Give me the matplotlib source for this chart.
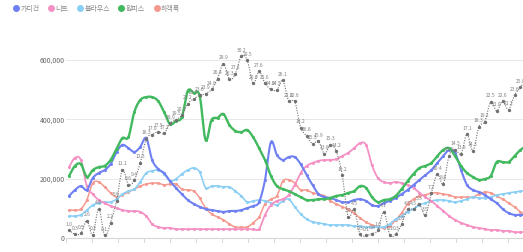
import numpy as np
import matplotlib
matplotlib.use("Agg")
import matplotlib.pyplot as plt
from matplotlib.lines import Line2D

plt.rcParams['font.family'] = ['Noto Sans CJK KR', 'DejaVu Sans']

# weekly search volume (thousands)
cardigan = [142, 162, 175, 162, 202, 219, 229, 249, 290, 314, 303, 290, 307, 337, 263, 233,
            219, 192, 169, 148, 128, 115, 105, 98, 94, 91, 88, 91, 91, 94, 101, 108,
            121, 196, 324, 280, 263, 273, 273, 249, 212, 179, 148, 138, 135, 128, 121, 121,
            128, 131, 125, 111, 108, 118, 125, 135, 148, 162, 179, 196, 212, 229, 253, 276,
            297, 287, 229, 179, 162, 155, 145, 131, 118, 98, 84, 78, 78, 78]
knit = [239, 270, 263, 175, 148, 128, 118, 108, 101, 94, 91, 91, 88, 74, 47, 37,
        34, 34, 30, 30, 30, 30, 30, 30, 30, 30, 30, 30, 30, 30, 30, 30,
        30, 78, 111, 125, 131, 145, 179, 219, 243, 253, 260, 263, 263, 266, 276, 287,
        303, 320, 314, 246, 202, 189, 185, 189, 185, 179, 169, 152, 138, 125, 108, 91,
        74, 61, 51, 44, 37, 34, 30, 27, 27, 24, 24, 20, 20, 20]
blouse = [74, 74, 78, 94, 111, 118, 121, 121, 131, 148, 158, 165, 189, 219, 226, 229,
          216, 192, 199, 216, 229, 236, 222, 169, 175, 175, 172, 172, 158, 142, 121, 125,
          128, 125, 118, 111, 125, 131, 105, 81, 64, 54, 51, 47, 44, 44, 44, 44,
          40, 40, 37, 37, 37, 37, 47, 64, 74, 88, 98, 111, 118, 125, 128, 128,
          125, 121, 125, 131, 138, 135, 135, 138, 145, 148, 152, 155, 158, 158]
dress = [209, 243, 249, 206, 229, 239, 243, 263, 300, 337, 340, 425, 465, 475, 475, 462,
         425, 384, 394, 408, 496, 489, 479, 330, 398, 405, 418, 381, 361, 357, 364, 340,
         303, 263, 209, 175, 165, 158, 148, 138, 128, 128, 131, 131, 135, 142, 145, 152,
         158, 175, 169, 138, 121, 128, 131, 142, 165, 192, 216, 236, 243, 253, 276, 297,
         303, 276, 243, 219, 206, 196, 199, 209, 256, 256, 256, 276, 297, 310]
guest = [94, 94, 98, 128, 185, 189, 172, 152, 138, 145, 155, 165, 175, 182, 185, 185,
         179, 182, 182, 165, 162, 158, 135, 101, 81, 71, 61, 47, 37, 37, 37, 51,
         71, 115, 131, 142, 192, 196, 185, 162, 162, 152, 148, 142, 125, 115, 105, 98,
         84, 67, 54, 44, 37, 34, 40, 61, 84, 115, 131, 142, 145, 152, 152, 148,
         145, 138, 138, 138, 138, 148, 155, 152, 142, 131, 118, 105, 88, 78]
# share (%) shown as the dotted line with labels
ratio = [1.0, 0.3, 0.5, 2.6, 0.2, 4.6, 0.1, 2.2, 5.9, 11.1, 8.6, 9.4, 12.3, 16.3, 17.0, 17.5,
         17.2, 18.9, 19.5, 20.3, 22.2, 23.0, 23.6, 23.9, 24.6, 26.4, 28.9, 26.3, 27.2, 30.2, 29.5, 25.6,
         27.6, 25.6, 24.6, 24.5, 26.1, 22.6, 22.6, 18.2, 16.8, 15.5, 15.9, 13.8, 15.3, 14.2, 10.2, 3.2,
         4.5, 0.3, 0.1, 0.4, 1.0, 4.1, 0.2, 0.3, 2.0, 4.5, 4.5, 5.3, 3.5, 7.2, 10.4, 8.8,
         13.5, 14.5, 13.8, 17.1, 14.3, 18.3, 19.2, 22.5, 21.0, 22.6, 21.2, 23.6, 25.0, 26.2]

names = ['가디건', '니트', '블라우스', '원피스', '하객룩']
colors = ['#6f80f2', '#f590c4', '#8ccff5', '#41b95e', '#f5998f']
series = [cardigan, knit, blouse, dress, guest]


def smooth(x, y, n=8):
    # catmull-rom curve through the points, for drawing only
    x = np.asarray(x, float)
    y = np.asarray(y, float)
    res = []
    for a in (x, y):
        p = np.concatenate([[2 * a[0] - a[1]], a, [2 * a[-1] - a[-2]]])
        p0, p1, p2, p3 = p[:-3], p[1:-2], p[2:-1], p[3:]
        t = np.linspace(0, 1, n, endpoint=False)[:, None]
        seg = 0.5 * (2 * p1 + (p2 - p0) * t + (2 * p0 - 5 * p1 + 4 * p2 - p3) * t ** 2
                     + (3 * p1 - p0 - 3 * p2 + p3) * t ** 3)
        res.append(np.append(seg.T.ravel(), a[-1]))
    return res


fig = plt.figure(figsize=(5.23, 2.52), dpi=100)
ax = fig.add_axes([66 / 523, 0, 457 / 523, 222 / 252])
x = np.arange(len(dress))

ax.set_xlim(-0.505, 76.43)
ax.set_ylim(-47191, 701124)
for s in ax.spines.values():
    s.set_visible(False)
ax.set_xticks([])
ax.set_yticks([0, 200000, 400000, 600000])
ax.set_yticklabels(['0', '200,000', '400,000', '600,000'], fontsize=5, color='#666666')
ax.tick_params(axis='y', length=0, pad=1)
for v in [200000, 400000, 600000]:
    ax.axhline(v, color='#e8e8e8', lw=0.7, zorder=0)
ax.axhline(0, color='#d6d6d6', lw=0.8, zorder=0)

# monthly ticks
ticks = 8.25 + 4.377 * np.arange(-2, 16)
for t in ticks:
    ax.plot([t, t], [0, -12000], color='#d6d6d6', lw=0.7, clip_on=False)

for vals, c, lw, z in zip(series, colors, [1.5, 1.3, 1.2, 1.7, 1.1], [4, 3, 2, 5, 1]):
    sx, sy = smooth(x, np.array(vals) * 1000)
    ax.plot(sx, sy, color=c, lw=lw, zorder=z, solid_capstyle='round')
    ax.plot(x, np.array(vals) * 1000, 'o', ms=1.2, color=c, zorder=z)

ax2 = ax.twinx()
ax2.set_ylim(-2.68, 34.56)
ax2.axis('off')
sx, sy = smooth(x, ratio)
ax2.plot(sx, sy, color='#707070', lw=0.8, ls=(0, (1, 1.3)), zorder=6)
ax2.plot(x, ratio, 'o', ms=1.4, color='#707070', zorder=6)
for xi, v in zip(x, ratio):
    ax2.annotate(f'{v:.1f}', (xi, v), xytext=(0, 2.5), textcoords='offset points',
                 ha='center', va='bottom', fontsize=3.6, color='#808080', zorder=7)

handles = [Line2D([], [], marker='o', ls='', ms=4, color=c) for c in colors]
fig.legend(handles, names, loc='upper left', bbox_to_anchor=(0.015, 1.0), ncol=5,
           frameon=False, fontsize=5, labelcolor='#888888', handletextpad=0.1,
           columnspacing=1.2, borderaxespad=0.3, handlelength=1.0)

fig.savefig('out.png', dpi=100)
